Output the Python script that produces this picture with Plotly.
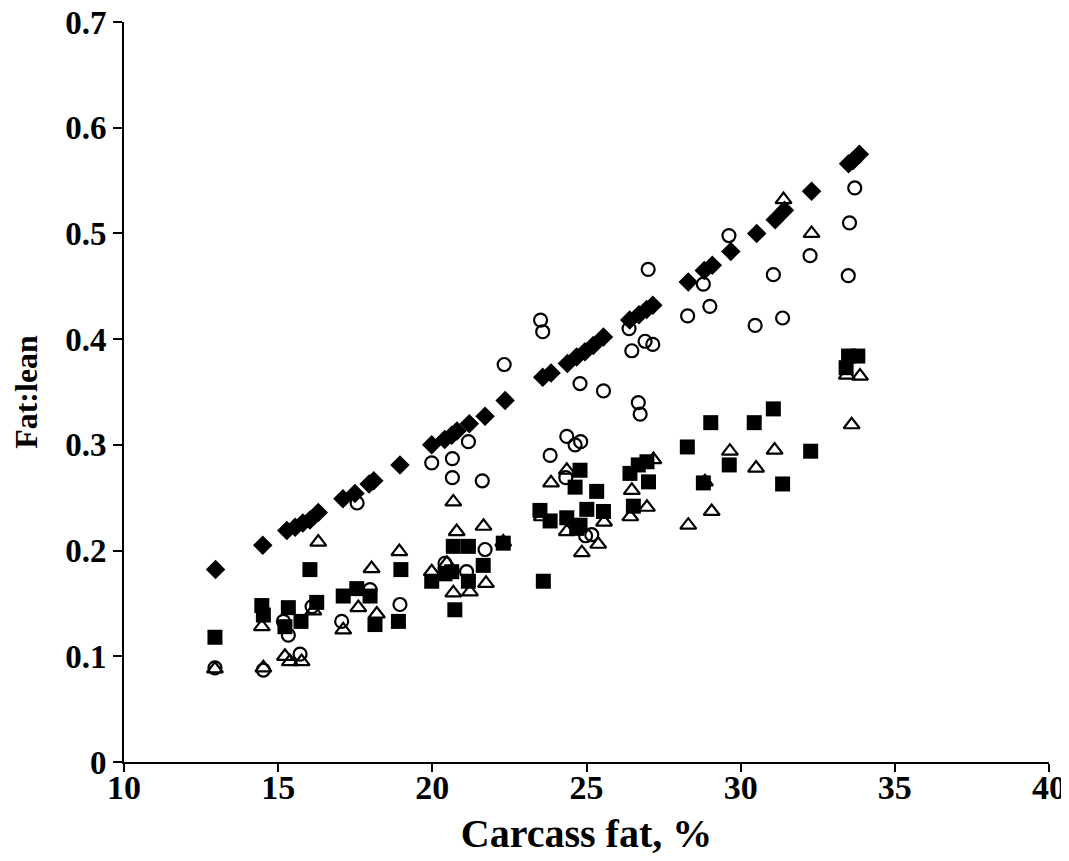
import plotly.graph_objects as go

# Filled diamonds
dia_x = [12.97, 14.50, 15.28, 15.55, 15.80, 16.03, 16.30, 17.10, 17.49, 17.95, 18.10, 18.95,
         19.98, 20.40, 20.63, 20.80, 21.20, 21.71, 22.36, 23.58, 23.85, 24.38, 24.68, 24.95,
         25.22, 25.55, 26.40, 26.70, 26.95, 27.15, 28.30, 28.82, 29.08, 29.68, 30.52, 31.12,
         31.42, 32.30, 33.50, 33.65, 33.85]
dia_y = [0.182, 0.205, 0.219, 0.222, 0.226, 0.229, 0.236, 0.249, 0.254, 0.263, 0.266, 0.281,
         0.300, 0.305, 0.309, 0.313, 0.320, 0.327, 0.342, 0.364, 0.368, 0.377, 0.383, 0.388,
         0.394, 0.402, 0.418, 0.423, 0.428, 0.432, 0.454, 0.465, 0.470, 0.483, 0.500, 0.513,
         0.522, 0.540, 0.566, 0.569, 0.575]

# Open circles
cir_x = [12.95, 14.52, 15.71, 15.33, 15.17, 16.10, 17.06, 17.56, 17.98, 18.95, 19.98, 20.41,
         20.65, 20.65, 21.11, 21.17, 21.62, 21.71, 22.33, 23.51, 23.58, 23.82, 24.33, 24.36,
         24.63, 24.79, 24.81, 24.97, 25.17, 25.55, 26.38, 26.47, 26.68, 26.74, 26.90, 27.00,
         27.15, 28.28, 28.79, 29.00, 29.62, 30.47, 31.06, 31.36, 32.25, 33.49, 33.53, 33.70]
cir_y = [0.089, 0.087, 0.102, 0.120, 0.133, 0.147, 0.133, 0.245, 0.163, 0.149, 0.283, 0.188,
         0.287, 0.269, 0.180, 0.303, 0.266, 0.201, 0.376, 0.418, 0.407, 0.290, 0.269, 0.308,
         0.300, 0.358, 0.303, 0.214, 0.215, 0.351, 0.410, 0.389, 0.340, 0.329, 0.398, 0.466,
         0.395, 0.422, 0.452, 0.431, 0.498, 0.413, 0.461, 0.420, 0.479, 0.460, 0.510, 0.543]

# Open triangles
tri_x = [12.95, 14.47, 14.52, 15.22, 15.38, 15.76, 16.14, 16.30, 17.11, 17.60, 18.03, 18.20,
         18.93, 19.98, 20.47, 20.68, 20.68, 20.79, 21.22, 21.66, 21.74, 22.30, 23.55, 23.85,
         24.36, 24.36, 24.85, 25.38, 25.57, 26.42, 26.47, 26.96, 27.17, 28.30, 28.84, 29.06,
         29.65, 30.50, 31.10, 31.39, 32.30, 33.44, 33.60, 33.87]
tri_y = [0.088, 0.128, 0.089, 0.100, 0.095, 0.095, 0.143, 0.208, 0.125, 0.146, 0.183, 0.140,
         0.199, 0.180, 0.188, 0.246, 0.160, 0.218, 0.161, 0.223, 0.169, 0.208, 0.232, 0.264,
         0.276, 0.218, 0.198, 0.206, 0.227, 0.232, 0.257, 0.241, 0.286, 0.224, 0.265, 0.237,
         0.294, 0.278, 0.295, 0.532, 0.500, 0.366, 0.319, 0.365]

# Filled squares
sq_x = [12.95, 14.47, 14.52, 15.22, 15.33, 15.74, 16.03, 16.25, 17.11, 17.55, 17.98, 18.14,
        18.90, 18.98, 19.98, 20.41, 20.63, 20.68, 20.73, 21.17, 21.17, 21.65, 22.30, 23.49,
        23.60, 23.82, 24.36, 24.68, 24.79, 24.63, 24.79, 25.01, 25.33, 25.55, 26.41, 26.52,
        26.68, 26.96, 27.01, 28.27, 28.79, 29.03, 29.63, 30.44, 31.06, 31.36, 32.27, 33.42,
        33.50, 33.80]
sq_y = [0.118, 0.148, 0.139, 0.128, 0.146, 0.133, 0.182, 0.151, 0.157, 0.164, 0.157, 0.130,
        0.133, 0.182, 0.171, 0.178, 0.180, 0.204, 0.144, 0.204, 0.171, 0.186, 0.207, 0.238,
        0.171, 0.228, 0.231, 0.221, 0.224, 0.260, 0.276, 0.239, 0.256, 0.237, 0.273, 0.242,
        0.281, 0.284, 0.265, 0.298, 0.264, 0.321, 0.281, 0.321, 0.334, 0.263, 0.294, 0.373,
        0.384, 0.384]

x_ticks = [10, 15, 20, 25, 30, 35, 40]
y_ticks = [0, 0.1, 0.2, 0.3, 0.4, 0.5, 0.6, 0.7]
y_ticktext = ["0", "0.1", "0.2", "0.3", "0.4", "0.5", "0.6", "0.7"]

FONT = "Liberation Serif"

fig = go.Figure()
fig.add_trace(go.Scatter(x=tri_x, y=tri_y, mode="markers",
                         marker=dict(symbol="triangle-up-open", size=14, color="black",
                                     line=dict(width=2.2, color="black"))))
fig.add_trace(go.Scatter(x=cir_x, y=cir_y, mode="markers",
                         marker=dict(symbol="circle-open", size=13, color="black",
                                     line=dict(width=2.2, color="black"))))
fig.add_trace(go.Scatter(x=sq_x, y=sq_y, mode="markers",
                         marker=dict(symbol="square", size=15, color="black",
                                     line=dict(width=0))))
fig.add_trace(go.Scatter(x=dia_x, y=dia_y, mode="markers",
                         marker=dict(symbol="diamond", size=15, color="black",
                                     line=dict(width=0))))

# The page body adds an 8px offset, so the figure is sized and margined to compensate.
fig.update_layout(
    width=1061, height=853,
    margin=dict(l=116, r=20, t=14, b=99),
    paper_bgcolor="white", plot_bgcolor="white",
    showlegend=False,
    font=dict(family=FONT, color="black"),
    xaxis=dict(range=[10, 40], tickvals=x_ticks, showgrid=False, zeroline=False,
               showline=True, linecolor="black", linewidth=2, automargin=False,
               ticks="outside", ticklen=8, tickwidth=2, tickcolor="black",
               ticklabeloverflow="allow", ticklabelstandoff=-14,
               tickfont=dict(family=FONT, size=34, color="black", weight="bold"),
               title=dict(text="<b>Carcass fat, %</b>", font=dict(family=FONT, size=40, color="black"),
                          standoff=14)),
    yaxis=dict(range=[0, 0.7], tickvals=y_ticks, ticktext=y_ticktext, showgrid=False,
               zeroline=False, showline=True, linecolor="black", linewidth=2, automargin=False,
               ticks="outside", ticklen=9, tickwidth=2, tickcolor="black",
               ticklabeloverflow="allow",
               tickfont=dict(family=FONT, size=33, color="black", weight="bold"),
               title=dict(text="<b>Fat:lean</b>", font=dict(family=FONT, size=32, color="black"),
                          standoff=22)),
)

fig.write_html("out.html")
